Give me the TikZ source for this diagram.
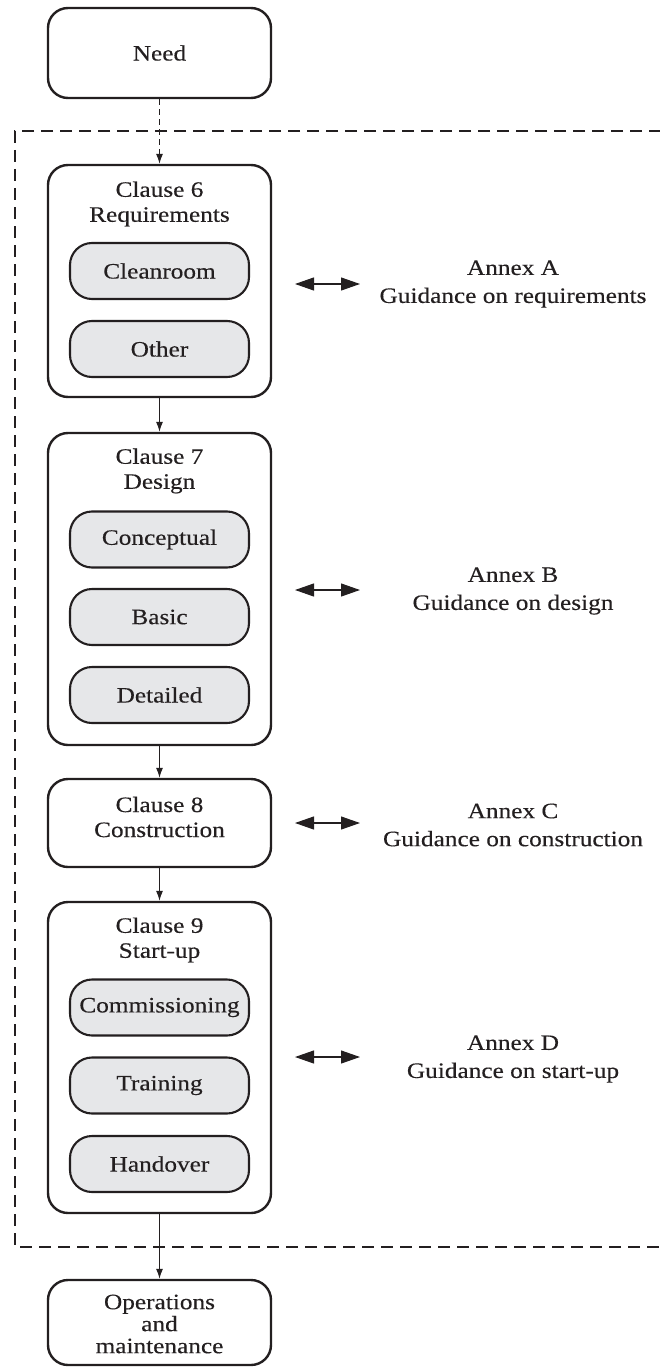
\documentclass[tikz,border=0pt]{standalone}
\usepackage{fontspec}
\setmainfont[FakeStretch=1.15,FakeBold=0.3]{Liberation Serif}
\usetikzlibrary{arrows.meta}
\definecolor{inbox}{HTML}{E6E7E9}
\definecolor{ink}{HTML}{231F20}
\begin{document}
\begin{tikzpicture}[x=1pt,y=-1pt,
  txt/.style={font=\fontsize{22}{25}\selectfont, text=ink, align=center, inner sep=0pt},
  outerbox/.style={draw=ink, line width=2.4pt, rounded corners=20pt, minimum width=223pt, inner sep=0pt},
  innerbox/.style={draw=ink, line width=2.1pt, rounded corners=22pt, fill=inbox, minimum width=179pt, minimum height=56pt, inner sep=0pt, font=\fontsize{22}{25}\selectfont, text=ink},
  flow/.style={draw=ink, line width=1pt, -{Latex[length=10pt,width=7pt]}},
  dbl/.style={draw=ink, line width=1.1pt, {Triangle[length=19pt,width=13pt]}-{Triangle[length=19pt,width=13pt]}},
  scopebox/.style={draw=ink, line width=2.6pt, dash pattern=on 12pt off 7pt},
  annex/.style={font=\fontsize{22}{28}\selectfont, text=ink, align=center, inner sep=0pt}]
\useasboundingbox (0,0) rectangle (660,1367);

% dashed scope frame
\coordinate (fr1) at (661,131);
\coordinate (fr2) at (15,131);
\coordinate (fr3) at (15,1247);
\coordinate (fr4) at (661,1247);
\draw[scopebox] (fr1) -- (fr2) -- (fr3) -- (fr4);

% Need
\node[outerbox, minimum height=90pt, txt] (need) at (159.5,53) {Need};

% Clause 6
\node[outerbox, minimum height=232pt] (c6) at (159.5,281) {};
\node[txt] (c6t) at (159.5,204) {Clause 6\\Requirements};
\node[innerbox] (clean) at (159.5,271) {Cleanroom};
\node[innerbox] (other) at (159.5,349) {Other};

% Clause 7
\node[outerbox, minimum height=312pt] (c7) at (159.5,589) {};
\node[txt] (c7t) at (159.5,471) {Clause 7\\Design};
\node[innerbox] (concept) at (159.5,539.5) {Conceptual};
\node[innerbox] (basic) at (159.5,617) {Basic};
\node[innerbox] (detail) at (159.5,695) {Detailed};

% Clause 8
\node[outerbox, minimum height=88pt] (c8) at (159.5,823) {};
\node[txt] (c8t) at (159.5,817) {Clause 8\\Construction};

% Clause 9
\node[outerbox, minimum height=311pt] (c9) at (159.5,1057.5) {};
\node[txt] (c9t) at (159.5,940) {Clause 9\\Start-up};
\node[innerbox] (comm) at (159.5,1007.5) {Commissioning};
\node[innerbox] (train) at (159.5,1085.5) {Training};
\node[innerbox] (hand) at (159.5,1164) {Handover};

% Operations
\node[outerbox, minimum height=85pt] (ops) at (159.5,1322.5) {};
\node[txt, font=\fontsize{22}{22}\selectfont] (opst) at (159.5,1324) {Operations\\and\\maintenance};

% flow arrows
\draw[flow, dash pattern=on 6pt off 4pt] (need.south) -- (c6.north);
\draw[flow] (c6.south) -- (c7.north);
\draw[flow] (c7.south) -- (c8.north);
\draw[flow] (c8.south) -- (c9.north);
\draw[flow] (c9.south) -- (ops.north);

% annexes
\node[annex] (anA) at (513,284) {Annex A\\Guidance on requirements};
\node[annex] (anB) at (513,591) {Annex B\\Guidance on design};
\node[annex] (anC) at (513,825) {Annex C\\Guidance on construction};
\node[annex] (anD) at (513,1059) {Annex D\\Guidance on start-up};

\coordinate (aAl) at (295,284); \coordinate (aAr) at (360,284);
\coordinate (aBl) at (295,590); \coordinate (aBr) at (360,590);
\coordinate (aCl) at (295,823); \coordinate (aCr) at (360,823);
\coordinate (aDl) at (295,1057); \coordinate (aDr) at (360,1057);
\draw[dbl] (aAl) -- (aAr);
\draw[dbl] (aBl) -- (aBr);
\draw[dbl] (aCl) -- (aCr);
\draw[dbl] (aDl) -- (aDr);
\end{tikzpicture}
\end{document}
